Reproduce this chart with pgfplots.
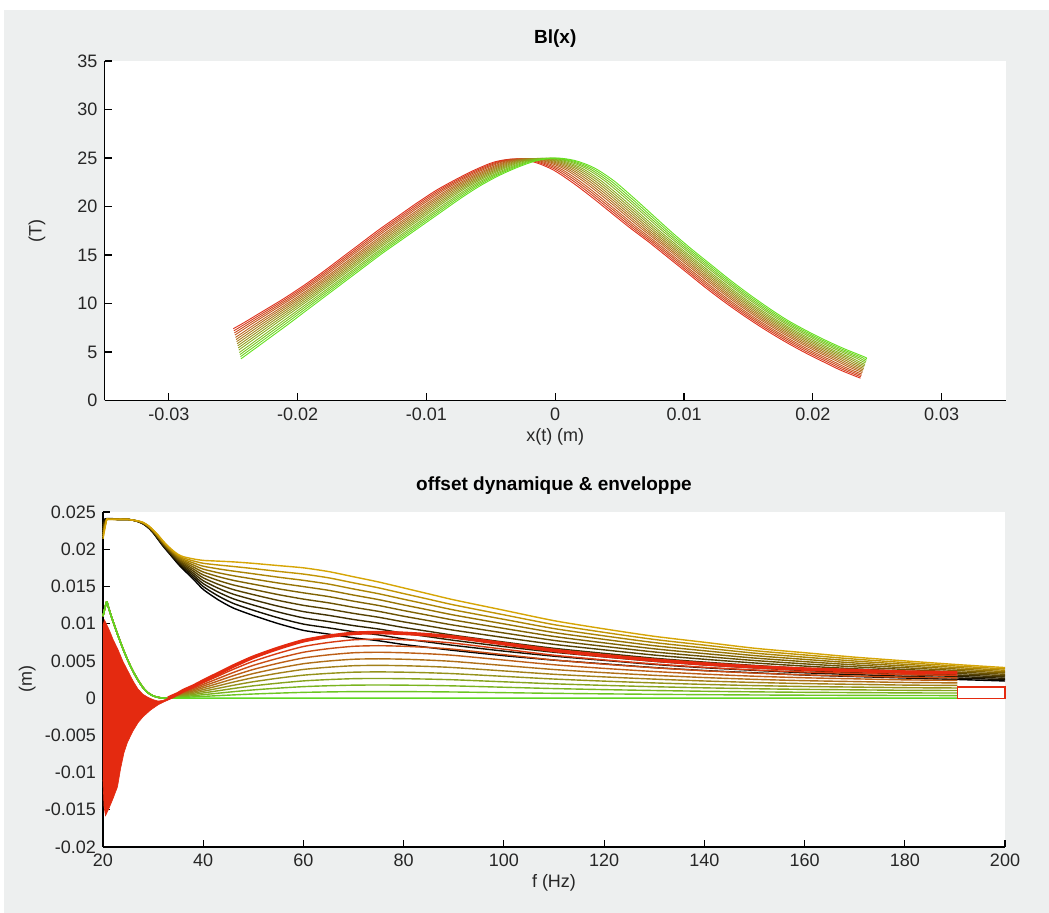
\documentclass[border=0pt]{standalone}
\usepackage{fontspec}
\setmainfont{Liberation Sans}
\usepackage{pgfplots}
\pgfplotsset{compat=1.18}
\usepackage{pgfplotstable}

\definecolor{bggray}{RGB}{237,239,239}
\definecolor{tred}{RGB}{222,48,28}
\definecolor{tgreen}{RGB}{100,225,30}
\definecolor{bgold}{RGB}{214,165,5}
\definecolor{bred}{RGB}{228,42,16}
\definecolor{bgreen}{RGB}{95,215,35}

% Bl(x) family: red curve (xr,yr) and green curve (xg,yg), matched point by point
\pgfplotstableread{
xr xg yr yg
-0.0250 -0.0244 7.4 4.3
-0.0242 -0.0210 8.0 7.6
-0.0227 -0.0195 9.2 9.1
-0.0212 -0.0180 10.4 10.6
-0.0197 -0.0165 11.7 12.1
-0.0182 -0.0150 13.1 13.6
-0.0167 -0.0135 14.6 15.1
-0.0152 -0.0120 16.1 16.5
-0.0137 -0.0105 17.6 17.9
-0.0122 -0.0090 19.0 19.3
-0.0107 -0.0075 20.4 20.7
-0.0092 -0.0060 21.7 22.0
-0.0077 -0.0045 22.8 23.1
-0.0062 -0.0030 23.8 24.0
-0.0047 -0.0015 24.6 24.7
-0.0032 0.0000 24.9 25.0
-0.0017 0.0015 24.6 24.75
-0.0002 0.0030 23.8 24.0
0.0013 0.0045 22.5 22.7
0.0028 0.0060 21.0 21.0
0.0043 0.0075 19.4 19.2
0.0058 0.0090 17.8 17.4
0.0073 0.0105 16.3 15.7
0.0088 0.0120 14.7 14.1
0.0103 0.0135 13.1 12.5
0.0118 0.0150 11.5 11.0
0.0133 0.0165 10.0 9.6
0.0148 0.0180 8.6 8.3
0.0163 0.0195 7.3 7.2
0.0178 0.0210 6.1 6.2
0.0193 0.0225 5.0 5.3
0.0208 0.0240 4.0 4.5
0.0222 0.0241 3.1 4.4
0.0237 0.0242 2.3 4.3
}\blcurves

% offset / enveloppe: black (b) and gold (gd) envelopes, green start (env), red offset (pk)
\pgfplotstableread{
f b gd env pk
20 0.0240 0.0214 0.0110 0
20.7 0.0241 0.0239 0.0129 0
21 0.0241 0.0240 0.0124 0
21.5 0.0241 0.0240 0.0113 0
22 0.0241 0.0240 0.0103 0
23 0.0240 0.0240 0.0084 0
24 0.0240 0.0240 0.0066 0
25 0.0240 0.0240 0.0050 0
26 0.0239 0.0239 0.0036 0
27 0.0237 0.0238 0.0024 0
28 0.0234 0.0236 0.0014 0
29 0.0229 0.0232 0.0007 0
30 0.0222 0.0226 0.0003 0
31 0.0213 0.0219 0.0001 0
32 0.0204 0.0211 0.0000 0
33 0.0196 0.0204 0 0
34 0.0188 0.0198 0 0.0003
35 0.0180 0.0193 0 0.0006
36 0.0173 0.0190 0 0.0010
38 0.0160 0.0187 0 0.0016
40 0.0146 0.0185 0 0.0023
43 0.0132 0.0184 0 0.0033
46 0.0121 0.0183 0 0.0043
50 0.0111 0.0181 0 0.0055
55 0.0100 0.0178 0 0.0067
60 0.0091 0.0175 0 0.0077
65 0.0086 0.0170 0 0.0083
70 0.0081 0.0163 0 0.0087
75 0.0077 0.0156 0 0.0088
80 0.0072 0.0148 0 0.0087
85 0.0068 0.0140 0 0.0085
90 0.0064 0.0132 0 0.0082
100 0.0057 0.0118 0 0.0073
110 0.0051 0.0104 0 0.0064
120 0.0046 0.0093 0 0.0057
130 0.0041 0.0083 0 0.0051
140 0.0037 0.0075 0 0.0046
150 0.0034 0.0067 0 0.0042
160 0.0031 0.0061 0 0.0039
170 0.0029 0.0055 0 0.0037
180 0.0027 0.0050 0 0.0035
190.5 0.0025 0.0045 0 0.0034
200 0.0023 0.0041 0 0.0033
}\offsets

% red oscillating region (upper edge, then lower edge backwards)
\pgfplotstableread{
f y
20 0.0098
20.3 0.0105
21 0.0095
21.4 0.0089
22 0.0079
23 0.0065
24 0.0049
25 0.0036
26 0.0023
27 0.0012
28 0.0005
29 0.0001
30 -0.0002
31 -0.0004
32 -0.0003
33 0.0000
34.2 0.0001
33.2 -0.0002
32.2 -0.0005
31 -0.0009
29.5 -0.0016
28 -0.0025
27 -0.0033
26 -0.0044
24.9 -0.0059
24.2 -0.0073
23.5 -0.0095
22.9 -0.0119
22 -0.0135
21.2 -0.0148
20.5 -0.0158
20.2 -0.0145
20 -0.0110
}\redblob

\pgfplotsset{
  mlstyle/.style={
    scale only axis,
    anchor=south west,
    axis x line=bottom, axis y line=left,
    axis line style={-, line width=0.6pt, black},
    tick align=inside,
    major tick length=3.5pt,
    tick style={line width=0.6pt, black},
    axis background/.style={fill=white},
    ticklabel style={font=\fontsize{9}{10}\selectfont, text=black!85},
    /pgf/number format/assume math mode=true,
    scaled x ticks=false, scaled y ticks=false,
    title style={font=\bfseries\fontsize{9.5}{11}\selectfont, anchor=center},
    label style={font=\fontsize{9}{10}\selectfont, text=black!85},
  }
}

\begin{document}
\begin{tikzpicture}[x=1pt,y=1pt]
\fill[white] (0,0) rectangle (524.5,456.5);
\fill[bggray] (2,0) rectangle (524.5,451.5);

\begin{axis}[mlstyle,
  at={(52.25pt,256.25pt)}, width=450.75pt, height=169.75pt,
  xmin=-0.035, xmax=0.035, ymin=0, ymax=35,
  xtick={-0.03,-0.02,-0.01,0,0.01,0.02,0.03},
  xticklabels={-0.03,-0.02,-0.01,0,0.01,0.02,0.03},
  ytick={0,5,10,15,20,25,30,35},
  yticklabels={0,5,10,15,20,25,30,35},
  title={Bl(x)},
  title style={at={(0.5,1.032)}},
  xlabel={x(t) (m)},
  xlabel style={at={(axis description cs:0.5,-0.1075)}, anchor=center},
  ylabel={(T)},
  ylabel style={at={(axis description cs:-0.075,0.5)}, anchor=center},
]
\pgfplotsinvokeforeach{0,7,14,21,29,36,43,50,57,64,71,79,86,93,100}{
  \addplot[no markers, smooth, tension=0.5, line width=0.45pt, color=tgreen!#1!tred]
    table[x expr=\thisrow{xr}+#1/100*(\thisrow{xg}-\thisrow{xr}),
          y expr=\thisrow{yr}+#1/100*(\thisrow{yg}-\thisrow{yr})] {\blcurves};
}
\end{axis}

\begin{axis}[mlstyle,
  at={(51.5pt,33pt)}, width=451pt, height=167.5pt,
  clip=false,
  xmin=20, xmax=200, ymin=-0.02, ymax=0.025,
  xtick={20,40,60,80,100,120,140,160,180,200},
  xticklabels={20,40,60,80,100,120,140,160,180,200},
  ytick={-0.02,-0.015,-0.01,-0.005,0,0.005,0.01,0.015,0.02,0.025},
  yticklabels={-0.02,-0.015,-0.01,-0.005,0,0.005,0.01,0.015,0.02,0.025},
  title={offset dynamique \& enveloppe},
  title style={at={(0.5,1.042)}},
  xlabel={f (Hz)},
  xlabel style={at={(axis description cs:0.5,-0.1075)}, anchor=center},
  ylabel={(m)},
  ylabel style={at={(axis description cs:-0.084,0.5)}, anchor=center},
]
\pgfplotsinvokeforeach{0,10,...,100}{
  \addplot[no markers, smooth, tension=0.4, line width=0.7pt, color=bgold!#1!black]
    table[x=f, y expr=\thisrow{b}+#1/100*(\thisrow{gd}-\thisrow{b})] {\offsets};
}
\pgfplotsinvokeforeach{90,80,...,0}{
  \addplot[no markers, smooth, tension=0.4, line width=0.7pt, color=bred!#1!bgreen, restrict x to domain=20:190.5]
    table[x=f, y expr=\thisrow{env}+#1/100*\thisrow{pk}] {\offsets};
}
\addplot[fill=bred, draw=bred, line width=0.3pt] table[x=f, y=y] {\redblob};
\addplot[no markers, smooth, tension=0.4, line width=1.8pt, color=bred, restrict x to domain=33:190.5]
  table[x=f, y=pk] {\offsets};
\addplot[draw=bred, fill=white, line width=0.6pt]
  coordinates {(190.5,0) (200,0) (200,0.0015) (190.5,0.0015) (190.5,0)};
\end{axis}
\end{tikzpicture}
\end{document}
